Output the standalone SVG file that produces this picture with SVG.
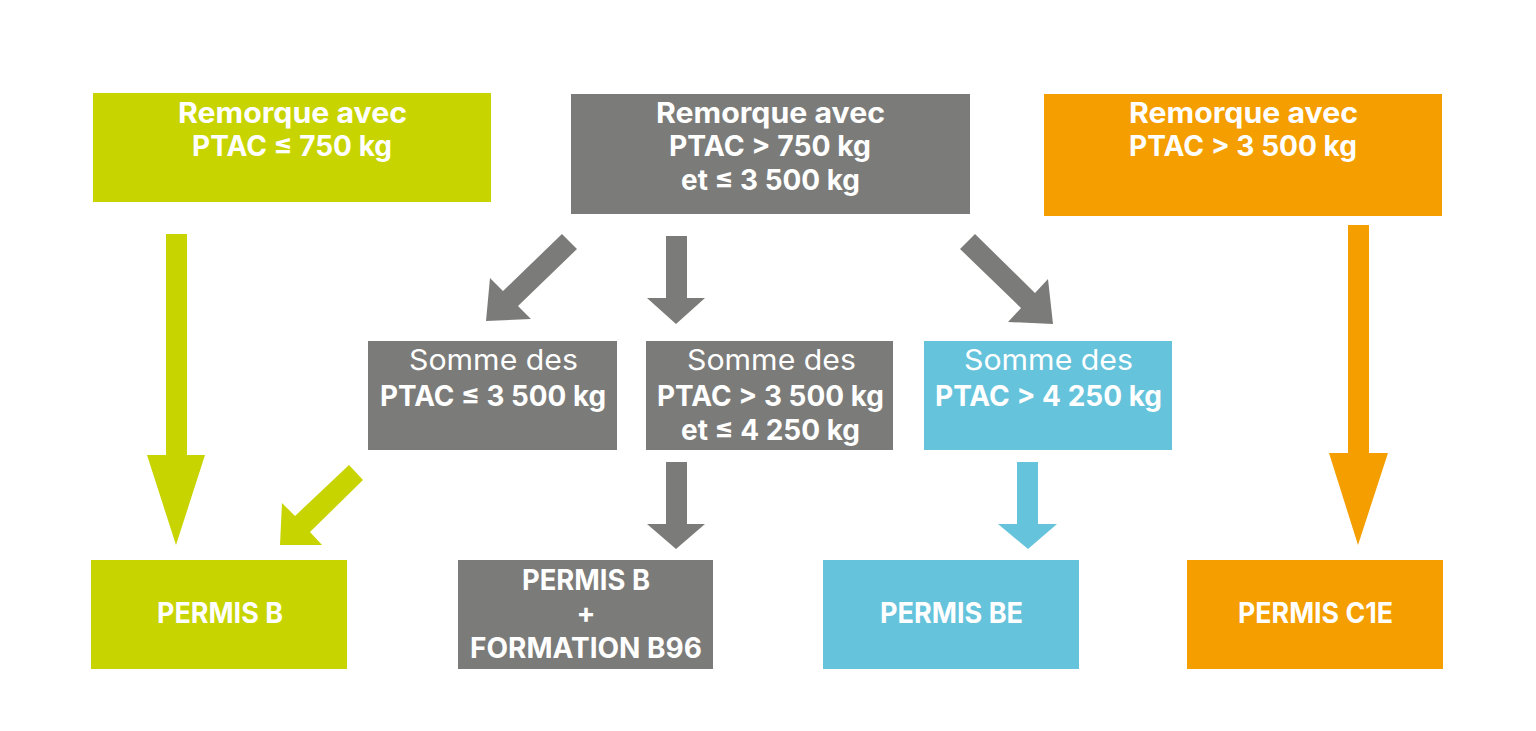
<svg xmlns="http://www.w3.org/2000/svg" width="1536" height="731" viewBox="0 0 1536 731">
<style>
.t{font-family:Inter,"Noto Sans","Liberation Sans",sans-serif;fill:#fff;text-anchor:middle}
.b{font-weight:700;font-size:28px}
.r{font-weight:400;font-size:28px}
.p{font-weight:700;font-size:28px}
.green{fill:#C8D400}.gray{fill:#7B7B79}.orange{fill:#F49E00}.blue{fill:#66C3DC}
</style>
<rect width="1536" height="731" fill="#fff"/>
<g id="top-green">
<rect class="green" x="93" y="93" width="398" height="109"/>
<text class="t b" x="292.5" y="123" textLength="229" lengthAdjust="spacingAndGlyphs">Remorque avec</text>
<text class="t b" x="292" y="156" textLength="200" lengthAdjust="spacingAndGlyphs">PTAC ≤ 750 kg</text>
</g>
<g id="top-gray">
<rect class="gray" x="571" y="94" width="399" height="120"/>
<text class="t b" x="770.5" y="123" textLength="229" lengthAdjust="spacingAndGlyphs">Remorque avec</text>
<text class="t b" x="770" y="156" textLength="202" lengthAdjust="spacingAndGlyphs">PTAC &gt; 750 kg</text>
<text class="t b" x="770.5" y="190" textLength="179" lengthAdjust="spacingAndGlyphs">et ≤ 3 500 kg</text>
</g>
<g id="top-orange">
<rect class="orange" x="1044" y="94" width="398" height="122"/>
<text class="t b" x="1243.5" y="123" textLength="229" lengthAdjust="spacingAndGlyphs">Remorque avec</text>
<text class="t b" x="1243" y="156" textLength="228" lengthAdjust="spacingAndGlyphs">PTAC &gt; 3 500 kg</text>
</g>
<g id="mid-1">
<rect class="gray" x="368" y="341" width="249" height="109"/>
<text class="t r" x="493.5" y="370" textLength="169" lengthAdjust="spacingAndGlyphs">Somme des</text>
<text class="t b" x="493" y="406" textLength="226" lengthAdjust="spacingAndGlyphs">PTAC ≤ 3 500 kg</text>
</g>
<g id="mid-2">
<rect class="gray" x="646" y="341" width="247" height="109"/>
<text class="t r" x="771.5" y="370" textLength="169" lengthAdjust="spacingAndGlyphs">Somme des</text>
<text class="t b" x="770.5" y="406" textLength="227" lengthAdjust="spacingAndGlyphs">PTAC &gt; 3 500 kg</text>
<text class="t b" x="770.5" y="440" textLength="179" lengthAdjust="spacingAndGlyphs">et ≤ 4 250 kg</text>
</g>
<g id="mid-3">
<rect class="blue" x="924" y="341" width="248" height="109"/>
<text class="t r" x="1048.5" y="370" textLength="169" lengthAdjust="spacingAndGlyphs">Somme des</text>
<text class="t b" x="1048.5" y="406" textLength="227" lengthAdjust="spacingAndGlyphs">PTAC &gt; 4 250 kg</text>
</g>
<g id="bot-1">
<rect class="green" x="91" y="560" width="256" height="109"/>
<text class="t p" x="220" y="623" textLength="126" lengthAdjust="spacingAndGlyphs">PERMIS B</text>
</g>
<g id="bot-2">
<rect class="gray" x="458" y="560" width="255" height="109"/>
<text class="t p" x="586" y="590" textLength="128" lengthAdjust="spacingAndGlyphs">PERMIS B</text>
<text class="t p" x="586" y="623">+</text>
<text class="t p" x="586" y="658" textLength="232" lengthAdjust="spacingAndGlyphs">FORMATION B96</text>
</g>
<g id="bot-3">
<rect class="blue" x="823" y="560" width="256" height="109"/>
<text class="t p" x="951.5" y="623" textLength="143" lengthAdjust="spacingAndGlyphs">PERMIS BE</text>
</g>
<g id="bot-4">
<rect class="orange" x="1187" y="560" width="256" height="109"/>
<text class="t p" x="1315.5" y="623" textLength="155" lengthAdjust="spacingAndGlyphs">PERMIS C1E</text>
</g>
<g id="connectors">
<polygon class="green" points="166,234 187,234 187,455 205,455 176,545 147,455 166,455"/>
<polygon class="orange" points="1348,225 1369,225 1369,453 1388,453 1358,545 1329,453 1348,453"/>
<polygon class="gray" points="666,236 687,236 687,298 705,298 676,324 647,298 666,298"/>
<polygon class="gray" points="562,234 577,249 518,306 531,319 486,321 490,278 503,291"/>
<polygon class="gray" points="975,234 1035,293 1048,279 1053,324 1008,322 1021,308 960,249"/>
<polygon class="green" points="349,465 363,480 310,532 322,545 280,545 282,503 295,516"/>
<polygon class="gray" points="666,462 687,462 687,524 705,524 676,549 647,524 666,524"/>
<polygon class="blue" points="1017,462 1038,462 1038,524 1057,524 1028,549 998,524 1017,524"/>
</g>
</svg>
